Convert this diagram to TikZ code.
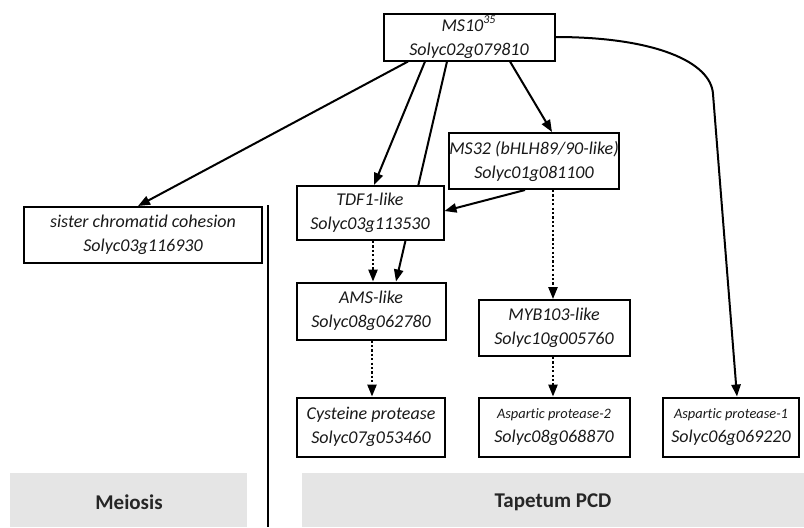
\documentclass[tikz,border=0pt]{standalone}
\usepackage{fontspec}
\setmainfont{Carlito}[Ligatures=NoCommon]
\usetikzlibrary{arrows.meta,calc,backgrounds}
\newcommand{\protname}[1]{{\fontsize{7.2}{12}\selectfont #1}}

\begin{document}
\begin{tikzpicture}[x=0.5pt,y=-0.5pt,
	gene/.style={draw,line width=1pt,fill=white,align=center,inner sep=0pt,text=black!90,font=\fontsize{9}{12}\selectfont\itshape},
	act/.style={line width=1pt,-{Triangle[length=6pt,width=4.6pt]}},
	pred/.style={act,dash pattern=on 1.1pt off 1.1pt},
	phase/.style={fill=black!10},
	phasetext/.style={text=black!85,font=\fontsize{10.5}{12}\selectfont\bfseries}]
		\useasboundingbox (0,0) rectangle (804,527);
		
		\fill [phase] (10,473) rectangle (247,527);
		\fill [phase] (302,473) rectangle (804,527);
		\node [phasetext] (meiosis) at (129,502) {Meiosis};
		\node [phasetext] (pcd) at (553,502) {Tapetum PCD};
		\draw [line width=0.6pt] (268,205) -- (268,527);
		
		\node [gene,minimum width=85.5pt,minimum height=23.5pt] (ms10) at (469,37) {MS10\textsuperscript{35}\\Solyc02g079810};
		\node [gene,minimum width=119pt,minimum height=28pt] (sister) at (143,235) {sister chromatid cohesion\\Solyc03g116930};
		\node [gene,minimum width=73.5pt,minimum height=27pt] (tdf) at (370,213) {TDF1-like\\Solyc03g113530};
		\node [gene,minimum width=79.5pt,minimum height=28pt] (ms32) at (534,161) {MS32 (bHLH89/90-like)\\Solyc01g081100};
		\node [gene,minimum width=74.5pt,minimum height=28.5pt] (ams) at (371,311) {AMS-like\\Solyc08g062780};
		\node [gene,minimum width=75.5pt,minimum height=28pt] (myb) at (554,328) {MYB103-like\\Solyc10g005760};
		\node [gene,minimum width=74pt,minimum height=29.5pt] (cys) at (371,427) {Cysteine protease\\Solyc07g053460};
		\node [gene,minimum width=75.5pt,minimum height=29.5pt] (asp2) at (554,427) {\protname{Aspartic protease-2}\\Solyc08g068870};
		\node [gene,minimum width=68pt,minimum height=29.5pt] (asp1) at (731,427) {\protname{Aspartic protease-1}\\Solyc06g069220};
		
		\begin{scope}[on background layer]
		\draw [act] ($(ms10.south)+(-22,0)$) -- ($(ams.north)+(25,0)$);
		\end{scope}
		\draw [act] ($(ms10.south)+(-61,0)$) -- ($(sister.north)+(-5,0)$);
		\draw [act] ($(ms10.south)+(-44,0)$) -- ($(tdf.north)+(4,0)$);
		\draw [act] ($(ms10.south)+(41,0)$) -- ($(ms32.north)+(18,0)$);
		\draw [act] (ms10.east) .. controls (655,37) and (711,62) .. (713,94) -- ($(asp1.north)+(6,0)$);
		\draw [act] ($(ms32.south)+(-9,0)$) -- ($(tdf.east)+(0,-2)$);
		
		\draw [pred] ($(tdf.south)+(3,0)$) -- ($(ams.north)+(2,0)$);
		\draw [pred] ($(ms32.south)+(19,0)$) -- ($(myb.north)+(-1,0)$);
		\draw [pred] ($(ams.south)+(1,0)$) -- ($(cys.north)+(1,0)$);
		\draw [pred] ($(myb.south)+(-1,0)$) -- ($(asp2.north)+(-1,0)$);
\end{tikzpicture}
\end{document}
